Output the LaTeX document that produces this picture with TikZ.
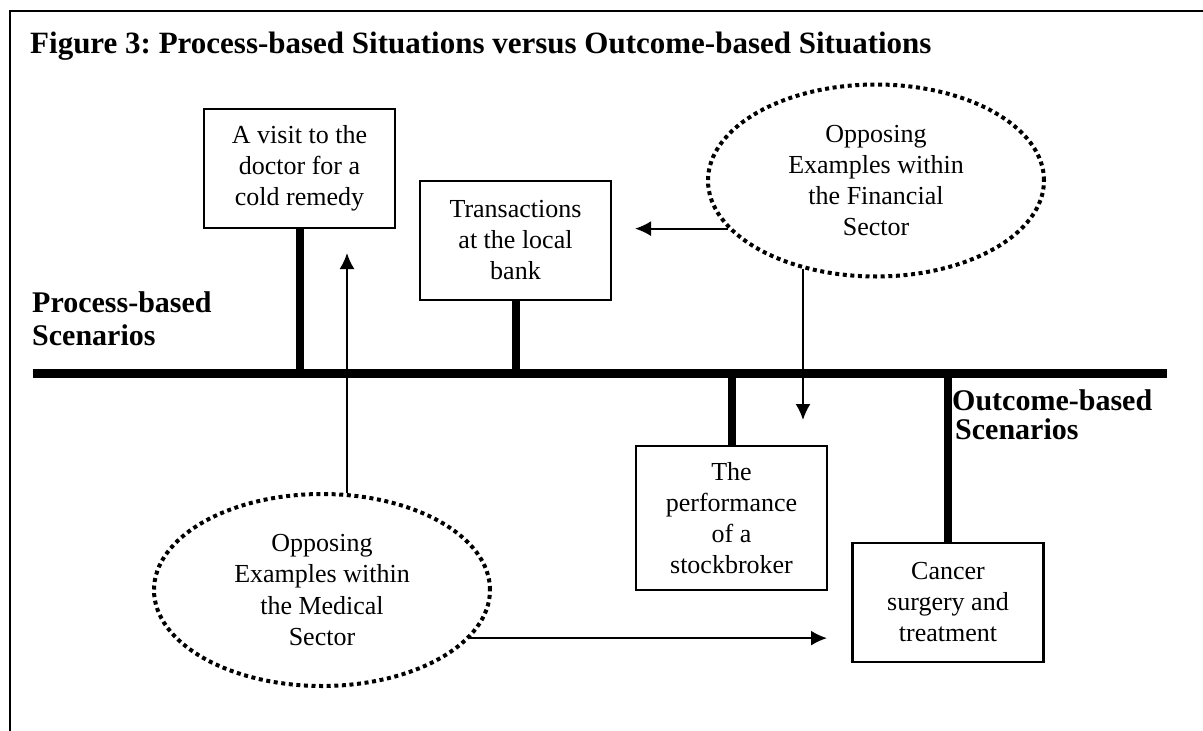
\documentclass[tikz,border=0pt]{standalone}
\usepackage{fontspec}
\setmainfont{Liberation Serif}
\usetikzlibrary{arrows.meta,shapes.geometric,calc}
\begin{document}
\frenchspacing
\begin{tikzpicture}[x=1pt,y=-1pt,
  box/.style={draw,line width=2.5pt,minimum width=191pt,minimum height=119pt,inner sep=0pt,align=center,font=\fontsize{26}{31}\selectfont},
  oval/.style={draw,ellipse,line width=4pt,dash pattern=on 4pt off 3.6pt,minimum width=336pt,minimum height=192pt,inner sep=0pt,align=center,font=\fontsize{26}{31.3}\selectfont},
  stem/.style={line width=8pt},
  axis/.style={line width=9pt},
  arr/.style={line width=2pt,-{Latex[length=16pt,width=15pt]}},
  lbl/.style={anchor=base west,align=left,inner sep=0pt}
]
\useasboundingbox (0,0) rectangle (1203,731);
% frame
\draw[line width=2.5pt] (10,731) -- (10,11) -- (1203,11);
% title
\node[anchor=base west,inner sep=0pt,font=\bfseries\fontsize{31}{36}\selectfont] (title) at (30,53) {Figure 3: Process-based Situations versus Outcome-based Situations};
% main line
\coordinate (lineL) at (33,373);
\coordinate (lineR) at (1167,373);
\draw[axis] (lineL) -- (lineR);
% labels (base = last line)
\node[lbl,font=\bfseries\fontsize{30}{33}\selectfont] (proc) at (32,345) {Process-based\\Scenarios};
\node[lbl,font=\bfseries\fontsize{30}{29}\selectfont] (outc) at (952,439) {Outcome-based\\\hspace{3pt}Scenarios};
% boxes
\node[box] (visit) at (299.5,168.5) {A visit to the\\doctor for a\\cold remedy};
\node[box] (bank) at (515.5,240.5) {Transactions\\at the local\\bank};
\node[box,minimum height=144pt] (stock) at (731.5,518) {The\\performance\\of a\\stockbroker};
\node[box] (cancer) at (948,602.5) {Cancer\\surgery and\\treatment};
% stems
\draw[stem] (visit.south) -- (visit.south |- lineL);
\draw[stem] (bank.south) -- (bank.south |- lineL);
\draw[stem] (stock.north |- lineL) -- (stock.north);
\draw[stem] (cancer.north |- lineL) -- (cancer.north);
% ellipses
\node[oval] (fin) at (876,180.5) {Opposing\\Examples within\\the Financial\\Sector};
\node[oval] (med) at (322,590) {Opposing\\Examples within\\the Medical\\Sector};
% arrows
\coordinate (finL) at (635,229);
\coordinate (finD) at (803,420);
\coordinate (medU) at (347,253);
\coordinate (medR) at (827,639);
\draw[arr] (fin.198.4) -- (fin.198.4 -| finL);
\draw[arr] (finD |- fin.230.5) -- (finD);
\draw[arr] (medU |- med.75.4) -- (medU);
\draw[arr] (med.-18.2) -- (med.-18.2 -| medR);
\end{tikzpicture}
\end{document}
